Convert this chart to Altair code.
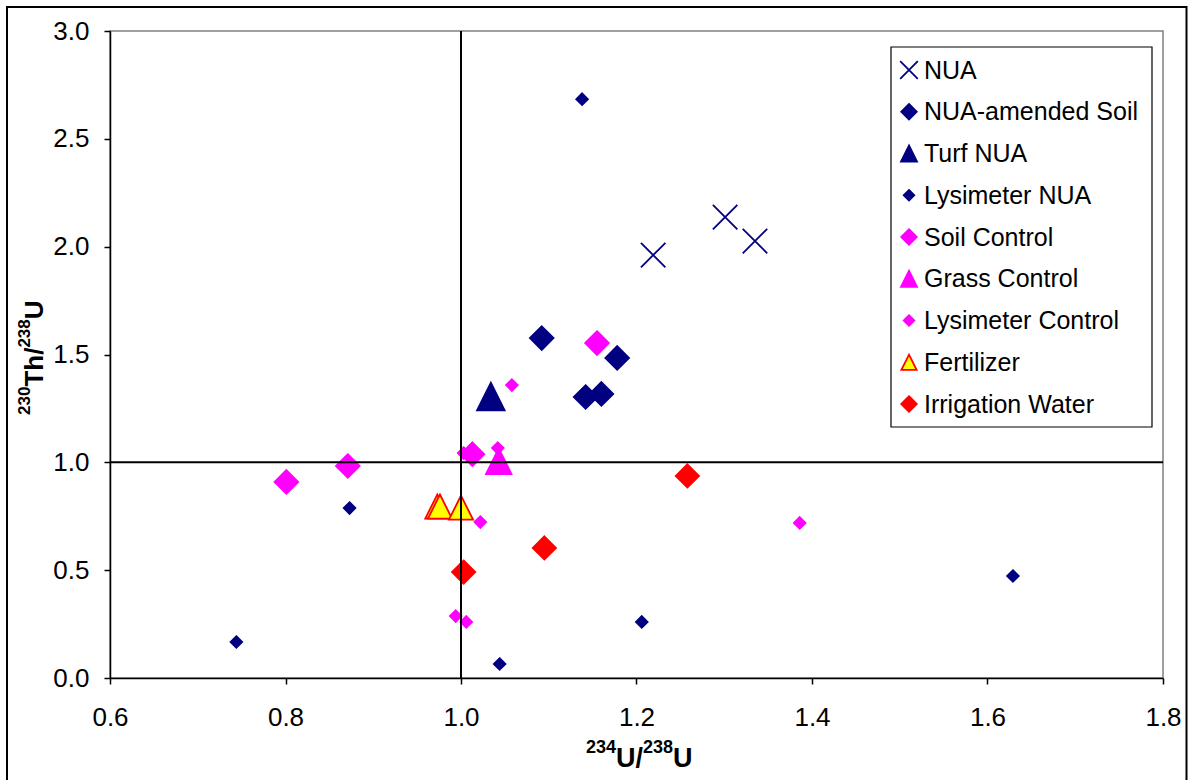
import altair as alt
import pandas as pd

series_names = ["NUA", "NUA-amended Soil", "Turf NUA", "Lysimeter NUA", "Soil Control",
                "Grass Control", "Lysimeter Control", "Fertilizer", "Irrigation Water"]

nua_x = [1.219, 1.301, 1.335]
nua_y = [1.961, 2.137, 2.026]
amended_x = [1.092, 1.178, 1.142, 1.160]
amended_y = [1.576, 1.484, 1.303, 1.317]
turf_x = [1.034]
turf_y = [1.305]
lys_nua_x = [1.138, 0.873, 0.744, 1.044, 1.206, 1.629]
lys_nua_y = [2.684, 0.788, 0.167, 0.065, 0.260, 0.473]
soil_ctrl_x = [0.801, 0.871, 1.013, 1.155]
soil_ctrl_y = [0.909, 0.983, 1.038, 1.553]
grass_x = [1.043]
grass_y = [1.005]
lys_ctrl_x = [1.058, 1.042, 1.003, 1.022, 0.994, 1.006, 1.386]
lys_ctrl_y = [1.358, 1.066, 1.043, 0.723, 0.287, 0.260, 0.719]
fert_x = [0.973, 0.976, 1.000]
fert_y = [0.795, 0.795, 0.790]
irr_x = [1.003, 1.095, 1.258]
irr_y = [0.491, 0.603, 0.937]

x_ticks = [0.6, 0.8, 1.0, 1.2, 1.4, 1.6, 1.8]
y_ticks = [0.0, 0.5, 1.0, 1.5, 2.0, 2.5, 3.0]

NAVY, MAG, RED, YEL = "#000080", "#FF00FF", "#FF0000", "#FFFF00"
fill_range = [NAVY, NAVY, NAVY, NAVY, MAG, MAG, MAG, YEL, RED]
stroke_range = [NAVY, NAVY, NAVY, NAVY, MAG, MAG, MAG, RED, RED]
XS = "M-1,-1L1,1M-1,1L1,-1"
DI = "M0,-1L1,0L0,1L-1,0Z"
TR = "M0,-1L1,1L-1,1Z"
shape_range = [XS, DI, TR, DI, DI, TR, DI, TR, DI]
point_sizes = [600, 560, 760, 136, 560, 650, 136, 580, 540]
legend_sizes = [310, 240, 256, 112, 240, 256, 112, 230, 240]

groups = [(nua_x, nua_y), (amended_x, amended_y), (turf_x, turf_y), (lys_nua_x, lys_nua_y),
          (soil_ctrl_x, soil_ctrl_y), (grass_x, grass_y), (lys_ctrl_x, lys_ctrl_y),
          (fert_x, fert_y), (irr_x, irr_y)]
rows = []
i = 0
for name, sz, (xs, ys) in zip(series_names, point_sizes, groups):
    for xv, yv in zip(xs, ys):
        rows.append({"series": name, "x": xv, "y": yv, "sz": sz, "idx": i})
        i += 1
df = pd.DataFrame(rows)

# legend layout (pixels, relative to the plot area)
LEG_LEFT, LEG_RIGHT, LEG_TOP, LEG_BOTTOM = 781, 1042, 16, 396
ROW0, ROW_GAP, SYM_X, LAB_X = 39, 41.75, 799, 814
legdf = pd.DataFrame({
    "series": series_names,
    "lx": [SYM_X] * len(series_names),
    "tx": [LAB_X] * len(series_names),
    "ly": [ROW0 + ROW_GAP * k for k in range(len(series_names))],
    "lsz": legend_sizes,
})
legdf["ty"] = legdf["ly"] + 8.5

FONT = "Liberation Sans"

xenc = alt.X("x:Q", scale=alt.Scale(domain=[0.6, 1.8], nice=False, zero=False),
             axis=alt.Axis(values=x_ticks, format=".1f", title=None, labelPadding=20, labelFlush=False))
yenc = alt.Y("y:Q", scale=alt.Scale(domain=[0, 3], nice=False, zero=False),
             axis=alt.Axis(values=y_ticks, format=".1f", title=None, labelPadding=15, labelFlush=False))
shape_enc = alt.Shape("series:N", scale=alt.Scale(domain=series_names, range=shape_range), legend=None)
fill_enc = alt.Fill("series:N", scale=alt.Scale(domain=series_names, range=fill_range), legend=None)
stroke_enc = alt.Stroke("series:N", scale=alt.Scale(domain=series_names, range=stroke_range), legend=None)

points = alt.Chart(df).mark_point(filled=True, opacity=1, strokeWidth=1.8).encode(
    x=xenc, y=yenc, shape=shape_enc, fill=fill_enc, stroke=stroke_enc,
    size=alt.Size("sz:Q", scale=None, legend=None),
    order=alt.Order("idx:Q"),
)

vline = alt.Chart(pd.DataFrame({"x": [1.0]})).mark_rule(color="black", strokeWidth=2).encode(x="x:Q")
hline = alt.Chart(pd.DataFrame({"y": [1.0]})).mark_rule(color="black", strokeWidth=2).encode(y="y:Q")

legend_box = alt.Chart(pd.DataFrame({"a": [0]})).mark_rect(fill="white", stroke="black", strokeWidth=1.2).encode(
    x=alt.value(LEG_LEFT), x2=alt.value(LEG_RIGHT), y=alt.value(LEG_TOP), y2=alt.value(LEG_BOTTOM))

legend_syms = alt.Chart(legdf).mark_point(filled=True, opacity=1, strokeWidth=1.8).encode(
    x=alt.X("lx:Q", scale=None), y=alt.Y("ly:Q", scale=None),
    shape=shape_enc, fill=fill_enc, stroke=stroke_enc,
    size=alt.Size("lsz:Q", scale=None, legend=None),
)

legend_labels = alt.Chart(legdf).mark_text(
    font=FONT, fontSize=25, align="left", baseline="alphabetic", color="black").encode(
    x=alt.X("tx:Q", scale=None), y=alt.Y("ty:Q", scale=None), text="series:N")


def txt(s, px, py, size, angle=0):
    return alt.Chart(pd.DataFrame({"s": [s]})).mark_text(
        font=FONT, fontWeight="bold", fontSize=size, align="left", baseline="alphabetic",
        angle=angle, color="black").encode(x=alt.value(px), y=alt.value(py), text=alt.value(s))


texts = [
    txt("234", 476, 722, 18), txt("U/", 506, 736, 27), txt("238", 533, 722, 18), txt("U", 563, 736, 27),
    txt("230", -80, 384, 17, 270), txt("Th/", -67, 355.6, 26, 270),
    txt("238", -80, 316.6, 17, 270), txt("U", -67, 288.2, 26, 270),
]

frame = alt.Chart(pd.DataFrame({"a": [0]})).mark_rect(fillOpacity=0, stroke="black", strokeWidth=2).encode(
    x=alt.value(-103), x2=alt.value(1076.5), y=alt.value(-24), y2=alt.value(760))

chart = alt.layer(points, vline, hline, legend_box, legend_syms, legend_labels, *texts, frame).properties(
    width=1053, height=647,
    padding={"left": 110, "top": 31, "right": 27, "bottom": 102},
    autosize=alt.AutoSizeParams(type="none"),
    background="white",
).configure_view(stroke="#808080", strokeWidth=1.5).configure_axis(
    labelFont=FONT, labelFontSize=26, labelColor="black", tickColor="black", tickSize=6,
    tickWidth=1.5, domainColor="black", domainWidth=1.5, grid=False,
)

chart.save("out.html", embed_options={"renderer": "svg", "actions": False})
